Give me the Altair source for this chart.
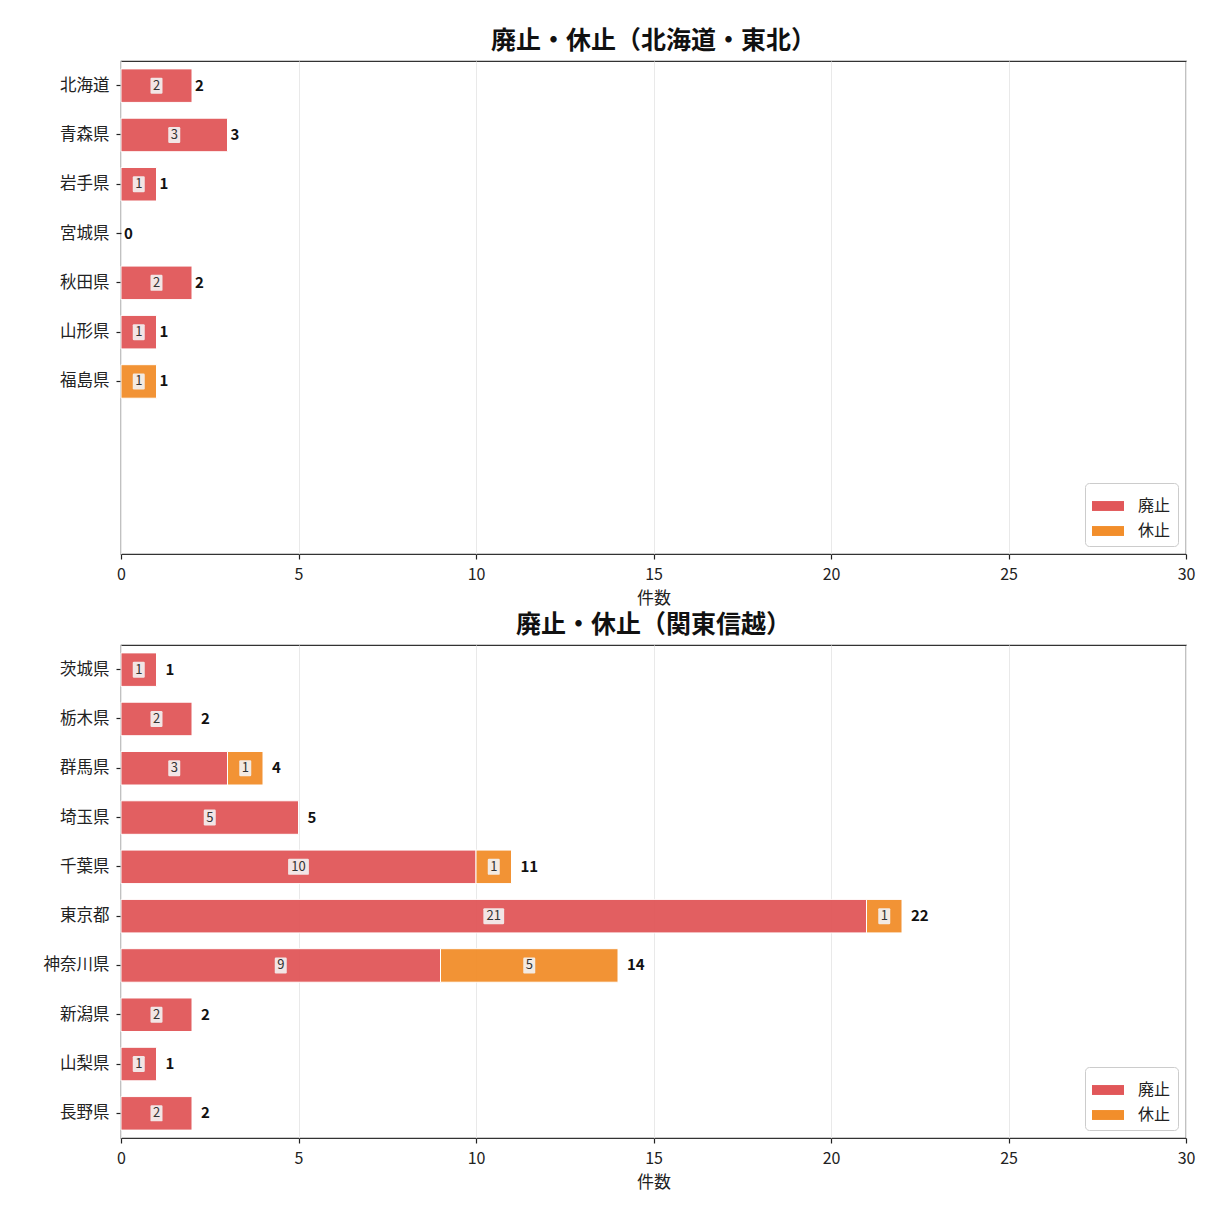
import altair as alt
import pandas as pd

FONT = "Noto Sans CJK JP"

cats_top = ["北海道", "青森県", "岩手県", "宮城県", "秋田県", "山形県", "福島県"]
haishi_top = [2, 3, 1, 0, 2, 1, 0]
kyushi_top = [0, 0, 0, 0, 0, 0, 1]

cats_bot = ["茨城県", "栃木県", "群馬県", "埼玉県", "千葉県", "東京都", "神奈川県", "新潟県", "山梨県", "長野県"]
haishi_bot = [1, 2, 3, 5, 10, 21, 9, 2, 1, 2]
kyushi_bot = [0, 0, 1, 0, 1, 1, 5, 0, 0, 0]

types = ["廃止", "休止"]
colors = ["#E15759", "#F28E2B"]
x_ticks = [0, 5, 10, 15, 20, 25, 30]
titles = ["廃止・休止（北海道・東北）", "廃止・休止（関東信越）"]
x_title = "件数"
N_SLOTS = 10

BOX1 = "M-0.6,-1H0.6Q0.75,-1 0.75,-0.85V0.85Q0.75,1 0.6,1H-0.6Q-0.75,1 -0.75,0.85V-0.85Q-0.75,-1 -0.6,-1Z"
BOX2 = "M-1.15,-1H1.15Q1.3,-1 1.3,-0.85V0.85Q1.3,1 1.15,1H-1.15Q-1.3,1 -1.3,0.85V-0.85Q-1.3,-1 -1.15,-1Z"
LEG_SYM = "M-1,-0.31H1V0.31H-1Z"


def panel(title, cats, h, k, total_dx):
    rows = []
    for i, c in enumerate(cats):
        rows.append({"pref": c, "type": types[0], "value": h[i], "order": 0})
        rows.append({"pref": c, "type": types[1], "value": k[i], "order": 1})
    df = pd.DataFrame(rows)
    tot = pd.DataFrame({"pref": cats, "total": [a + b for a, b in zip(h, k)]})
    domain = cats + [" " * (j + 1) for j in range(N_SLOTS - len(cats))]

    yenc = alt.Y(
        "pref:N",
        scale=alt.Scale(domain=domain, paddingInner=0.32, paddingOuter=0.16),
        axis=alt.Axis(values=cats, title=None, grid=False, domain=False,
                      tickSize=5, tickColor="#222", tickWidth=1.2, labelPadding=7,
                      labelFontSize=16.5, labelColor="#222", labelFont=FONT),
    )
    xscale = alt.Scale(domain=[0, 30], nice=False)
    xaxis = alt.Axis(values=x_ticks, title=x_title, grid=True, gridColor="#e9e9e9",
                     domain=False, tickSize=5, tickColor="#222", tickWidth=1.2,
                     labelFontSize=16, labelColor="#222", labelFont=FONT, labelFlush=False,
                     titleFontSize=17, titleFont=FONT, titleFontWeight="normal",
                     titleColor="#222", titlePadding=8, labelPadding=7)

    base = (
        alt.Chart(df)
        .transform_filter("datum.value > 0")
        .transform_stack(stack="value", groupby=["pref"], sort=[alt.SortField("order")], as_=["x0", "x1"])
        .transform_calculate(mid="(datum.x0 + datum.x1) / 2")
    )
    bars = base.mark_bar(stroke="white", strokeWidth=1, opacity=0.95).encode(
        x=alt.X("x0:Q", scale=xscale, axis=xaxis),
        x2="x1:Q",
        y=yenc,
        color=alt.Color(
            "type:N",
            scale=alt.Scale(domain=types, range=colors),
            legend=alt.Legend(title=None, orient="bottom-right", offset=8,
                              fillColor="white", strokeColor="#cccccc", cornerRadius=4,
                              padding=7, labelFontSize=16, labelFont=FONT, labelColor="#222",
                              symbolType=LEG_SYM, symbolSize=1024, symbolOpacity=1,
                              symbolStrokeWidth=0, labelOffset=14, rowPadding=1),
        ),
    )
    box1 = base.transform_filter("datum.value < 10").mark_point(
        shape=BOX1, filled=True, size=256, fill="#f3f1f1", opacity=0.92, strokeWidth=0
    ).encode(x=alt.X("mid:Q", scale=xscale), y=yenc)
    box2 = base.transform_filter("datum.value >= 10").mark_point(
        shape=BOX2, filled=True, size=256, fill="#f3f1f1", opacity=0.92, strokeWidth=0
    ).encode(x=alt.X("mid:Q", scale=xscale), y=yenc)
    inner = base.mark_text(fontSize=13, font=FONT, color="#333").encode(
        x=alt.X("mid:Q", scale=xscale), y=yenc, text="value:Q"
    )
    totals = alt.Chart(tot).mark_text(
        align="left", dx=total_dx, fontSize=15, fontWeight="bold", font=FONT, color="#111"
    ).encode(x=alt.X("total:Q", scale=xscale), y=yenc, text="total:Q")

    return alt.layer(bars, box1, box2, inner, totals).properties(
        width=1065, height=493,
        title=alt.TitleParams(title, fontSize=25, fontWeight="bold", font=FONT,
                              color="#111", offset=7, anchor="middle"),
    )


top = panel(titles[0], cats_top, haishi_top, kyushi_top, 3)
bot = panel(titles[1], cats_bot, haishi_bot, kyushi_bot, 9)

chart = (
    alt.vconcat(top, bot, spacing=5)
    .resolve_legend(color="independent")
    .properties(padding={"left": 34, "top": 20, "right": 0, "bottom": 0})
    .configure_view(stroke="#333", strokeWidth=1.2)
)

chart.save("out.html", embed_options={"renderer": "svg", "actions": False})
